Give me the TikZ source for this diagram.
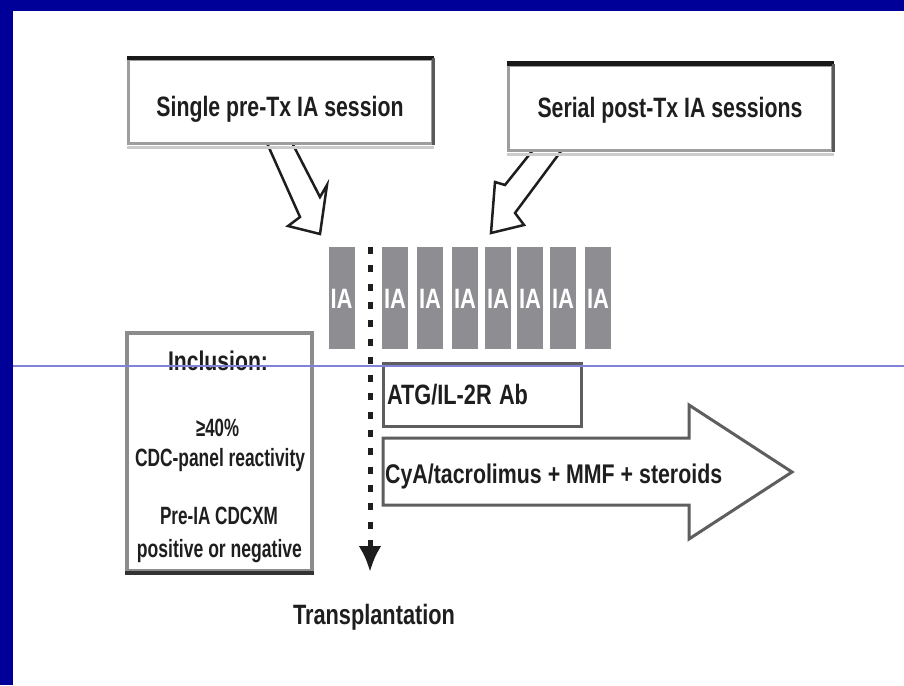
\documentclass[tikz,border=0pt]{standalone}
\usepackage{fontspec}
\setmainfont{Liberation Sans}
\usepackage{graphicx}
\usetikzlibrary{arrows.meta}

\definecolor{framebl}{HTML}{000099}
\definecolor{rulebl}{HTML}{8282DA}
\definecolor{iagray}{HTML}{8E8E92}
\definecolor{edgegray}{HTML}{5E5E5E}
\definecolor{inkdark}{HTML}{1E1E1E}
\newcommand{\fitw}[2]{\resizebox{#1pt}{\height}{#2}}

\begin{document}
\begin{tikzpicture}
  [x=1pt, y=-1pt,
   every node/.style={inner sep=0pt, text=inkdark, font=\bfseries\fontsize{28}{30}\selectfont},
   txt/.style={anchor=base},
   smalltxt/.style={anchor=base, font=\bfseries\fontsize{25}{28}\selectfont},
   headbox/.style={draw=black!38, line width=3pt, fill=white},
   hollow/.style={draw=inkdark, line width=2.5pt, fill=white, line join=miter},
   iablock/.style={fill=iagray, minimum width=26pt, minimum height=102pt, text=white, text height=21pt, text depth=0pt},
   txline/.style={inkdark, line width=5pt, dash pattern=on 7pt off 11.3pt, -{Latex[length=26pt,width=23pt]}},
   lightbox/.style={draw=edgegray, line width=3pt}]
  \useasboundingbox (0,0) rectangle (904,685);
  \fill[white] (0,0) rectangle (904,685);

  \draw[hollow] (262,132) -- (300,217) -- (288,226) -- (320,234) -- (327,185) -- (320,197) -- (287,133) -- cycle;
  \draw[hollow] (545,135) -- (505,185) -- (495,182) -- (491,233) -- (524,225) -- (515,213) -- (573,135) -- cycle;

  \node[headbox, minimum width=304pt, minimum height=83pt, text height=30pt, text depth=0pt] (pre) at (280,101.5) {\fitw{247}{Single pre-Tx IA session}};
  \node[headbox, minimum width=324pt, minimum height=85pt, text height=19pt, text depth=0pt] (post) at (670,107.5) {\fitw{265}{Serial post-Tx IA sessions}};
  \foreach \b in {pre,post} {
    \draw[black!90, line width=4pt] (\b.north west) -- (\b.north east);
    \draw[black!65, line width=3pt] (\b.north east) -- (\b.south east);
    \draw[black!20, line width=3pt] ([yshift=-3pt]\b.south west) -- ([yshift=-3pt]\b.south east);
  }

  \foreach \x [count=\i] in {341.5,395,430,465,498,530,563,598}
    \node[iablock] (ia\i) at (\x,298) {\fitw{22}{IA}};

  \coordinate (txtop) at (370,247);
  \coordinate (txend) at (370,572);
  \draw[txline] (txtop) -- (txend);
  \node[txt] (tx) at (374,624) {\fitw{162}{Transplantation}};

  \node[draw=black!45, line width=4pt, minimum width=185pt, minimum height=238pt] (incl) at (219.5,452) {};
  \draw[black!80, line width=4pt] (incl.south west) -- (incl.south east);
  \node[txt, font=\bfseries\fontsize{27}{30}\selectfont] (incltitle) at (218,370) {\fitw{100}{Inclusion:}};
  \node[smalltxt] (incla) at (217.5,436) {\fitw{43}{≥40\%}};
  \node[smalltxt] (inclb) at (220,466) {\fitw{170}{CDC-panel reactivity}};
  \node[smalltxt] (inclc) at (219,524) {\fitw{118}{Pre-IA CDCXM}};
  \node[smalltxt] (incld) at (219.5,557) {\fitw{165}{positive or negative}};

  \node[lightbox, minimum height=63pt, text width=190pt, align=left, inner xsep=4pt, text height=19pt, text depth=0pt] (atg) at (482,394.5) {\fitw{141}{ATG/IL-2R Ab}};

  \draw[lightbox, line join=miter] (383,438) -- (689,438) -- (689,405) -- (792,472) -- (689,539) -- (689,505) -- (383,505) -- cycle;
  \node[txt, anchor=base west, font=\bfseries\fontsize{27}{30}\selectfont] (cya) at (385,483) {\fitw{337}{CyA/tacrolimus + MMF + steroids}};

  \fill[framebl] (0,0) rectangle (904,11);
  \fill[framebl] (0,0) rectangle (13,685);
  \draw[rulebl, line width=1.2pt] (13,366) -- (904,366);
\end{tikzpicture}
\end{document}
